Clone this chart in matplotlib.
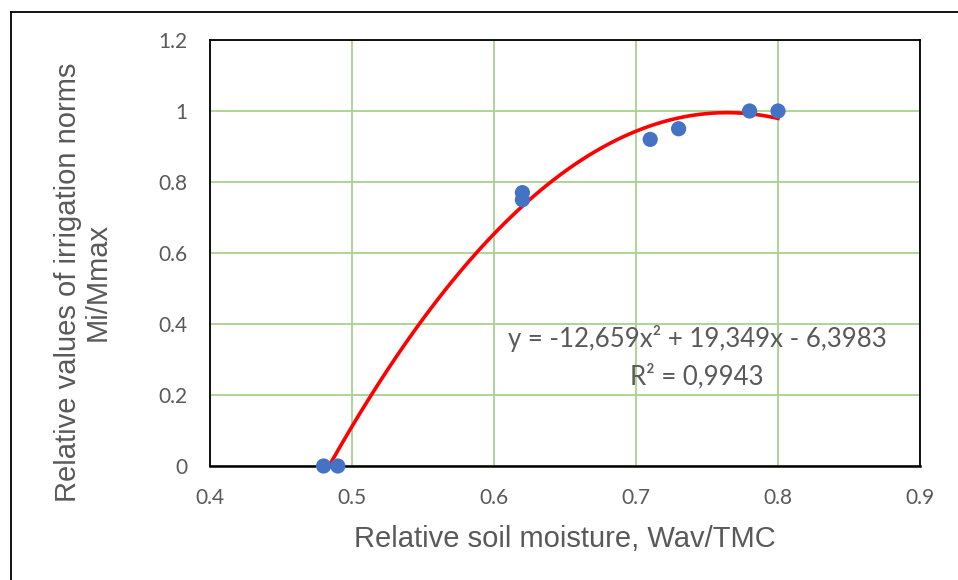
import numpy as np
import matplotlib
matplotlib.use("Agg")
import matplotlib.pyplot as plt
from matplotlib.lines import Line2D

# Data
soil_moisture = [0.48, 0.49, 0.62, 0.62, 0.71, 0.73, 0.78, 0.80]
irrigation_norm = [0.0, 0.0, 0.77, 0.75, 0.92, 0.95, 1.0, 1.0]
fit_coeffs = [-12.659, 19.349, -6.3983]
fit_range = [0.48, 0.80]
equation_text = "y = -12,659x² + 19,349x - 6,3983"
r2_text = "R² = 0,9943"
x_ticks = [0.4, 0.5, 0.6, 0.7, 0.8, 0.9]
y_ticks = [0, 0.2, 0.4, 0.6, 0.8, 1.0, 1.2]
x_tick_labels = ["0.4", "0.5", "0.6", "0.7", "0.8", "0.9"]
y_tick_labels = ["0", "0.2", "0.4", "0.6", "0.8", "1", "1.2"]

W, H = 958, 580
fig = plt.figure(figsize=(W / 100, H / 100), dpi=100)
ax = fig.add_axes([210 / W, (H - 466) / H, 710 / W, 426 / H])

gray = "#595959"
ax.set_xlim(0.4, 0.9)
ax.set_ylim(0, 1.2)
ax.set_xticks(x_ticks)
ax.set_xticklabels(x_tick_labels)
ax.set_yticks(y_ticks)
ax.set_yticklabels(y_tick_labels)
ax.tick_params(length=0, labelsize=15, labelcolor=gray)
ax.tick_params(axis="x", pad=16)
ax.tick_params(axis="y", pad=16)
for lab in ax.get_xticklabels() + ax.get_yticklabels():
    lab.set_fontfamily("Lato")

ax.grid(True, color="#A9D18E", linewidth=1.3)
ax.set_axisbelow(True)
for s in ax.spines.values():
    s.set_color("black")
    s.set_linewidth(1.3)
ax.spines["bottom"].set_linewidth(1.8)

xs = np.linspace(fit_range[0], fit_range[1], 200)
ax.plot(xs, np.polyval(fit_coeffs, xs), color="#FF0000", linewidth=2.6, zorder=3,
        clip_on=True)
ax.scatter(soil_moisture, irrigation_norm, s=120, color="#4472C4", zorder=4,
           clip_on=False, edgecolors="none")

ax.text(0.743, 0.335, equation_text, fontsize=18.5, color=gray, family="Lato",
        ha="center", va="baseline")
ax.text(0.743, 0.231, r2_text, fontsize=18.5, color=gray, family="Lato",
        ha="center", va="baseline")

ax.set_xlabel("Relative soil moisture, Wav/TMC", fontsize=21, color=gray,
              family="Liberation Sans", labelpad=12)
ax.set_ylabel("Relative values of irrigation norms\nMi/Mmax", fontsize=21,
              color=gray, family="Liberation Sans", linespacing=1.1)
ax.yaxis.set_label_coords((112 - 210) / 710, (466 - 282) / 426)

# figure border (top and left visible)
fig.add_artist(Line2D([10.5 / W, 10.5 / W], [0, (H - 11.5) / H], color="black",
                      linewidth=1.3, transform=fig.transFigure))
fig.add_artist(Line2D([10.5 / W, 1], [(H - 11.5) / H, (H - 11.5) / H], color="black",
                      linewidth=1.3, transform=fig.transFigure))

fig.savefig("out.png", dpi=100)
